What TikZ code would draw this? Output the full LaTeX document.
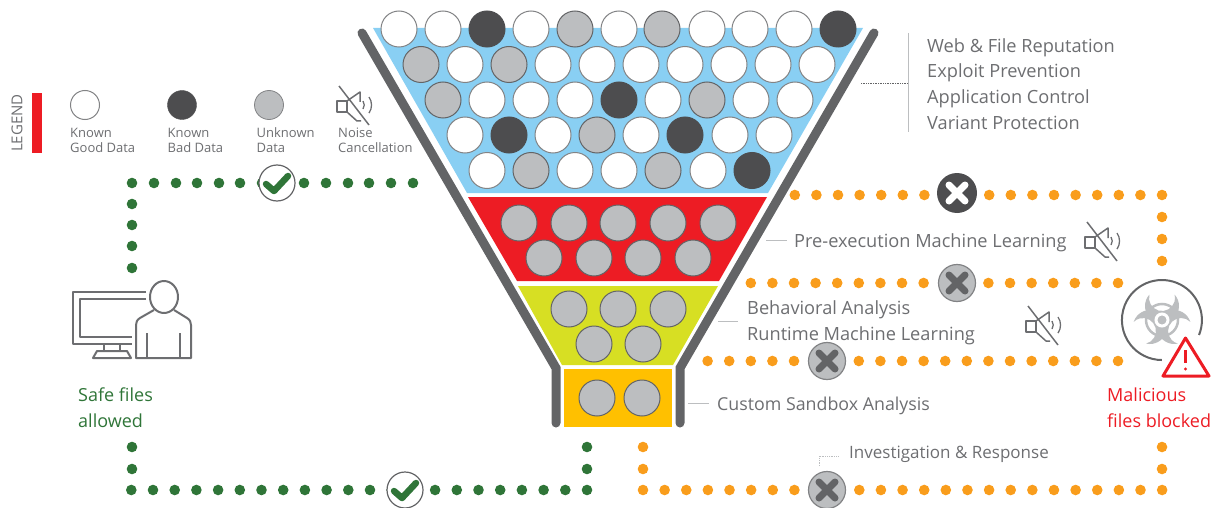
\documentclass[tikz,border=0pt]{standalone}
\usepackage{fontspec}
\setmainfont{Open Sans}
\usetikzlibrary{calc}
\definecolor{txt}{HTML}{6D6E71}
\definecolor{wall}{HTML}{636466}
\definecolor{dark}{HTML}{4D4D4F}
\definecolor{mid}{HTML}{BCBEC0}
\definecolor{grn}{HTML}{2F7538}
\definecolor{org}{HTML}{F99D1C}
\definecolor{blu}{HTML}{89CFF3}
\definecolor{redd}{HTML}{ED1C24}
\definecolor{ylw}{HTML}{D7DF23}
\definecolor{amb}{HTML}{FFC000}
\tikzset{
  x=1pt,y=-1pt,
  ball/.style={circle,minimum size=36pt,inner sep=0pt,line width=1pt},
  w ball/.style={ball,fill=white,draw=wall!80},
  d ball/.style={ball,fill=dark,draw=dark},
  g ball/.style={ball,fill=mid,draw=wall},
  lbl/.style={inner sep=0pt,anchor=west,text=txt,font=\fontsize{18.2}{20}\selectfont},
  smalltxt/.style={inner sep=0pt,anchor=west,align=left,text=txt,font=\fontsize{13}{15}\selectfont},
  leader/.style={draw=mid,line width=1pt},
  gdot/.style={fill=grn,draw=none},
  odot/.style={fill=org,draw=none},
  wallline/.style={draw=wall,line width=9pt,line cap=round,line join=miter},
  tickmark/.style={circle,minimum size=36pt,inner sep=0pt,fill=white,draw=wall,line width=1.2pt},
  xdark/.style={circle,minimum size=40pt,inner sep=0pt,fill=dark},
  xgrey/.style={circle,minimum size=37pt,inner sep=0pt,fill=mid,draw=wall!80,line width=1.2pt},
}
\newcommand{\speaker}[1]{%
  \begin{scope}[shift={(#1)},draw=txt,line width=1.5pt,line join=round]
    \draw (-18,-4) rectangle (-8,7);
    \draw (-8,-4) -- (5,-13) -- (5,-3);
    \draw (-8,7) -- (2,16) -- (6,16);
    \draw (-16,-19) -- (14,20);
    \draw[line width=1.3pt] (8,-4) arc (-35:35:7);
    \draw[line width=1.3pt] (14,-8) arc (-35:35:14);
  \end{scope}}
\newcommand{\chk}[1]{%
  \draw[grn,line width=6.5pt,line cap=round,line join=round] ($(#1)+(-11,1)$) -- ($(#1)+(-3,8)$) -- ($(#1)+(11,-7)$);}
\newcommand{\xcross}[2]{%
  \draw[#2,line width=7pt,line cap=round] ($(#1)+(-8,-8)$) -- ($(#1)+(8,8)$);
  \draw[#2,line width=7pt,line cap=round] ($(#1)+(-8,8)$) -- ($(#1)+(8,-8)$);}
\begin{document}
\begin{tikzpicture}
\useasboundingbox (0,0) rectangle (1217,508);
% funnel fills
\fill[blu] (373,28) -- (863,28) -- (768,193) -- (467,193) -- cycle;
\fill[redd] (468,197) -- (767,197) -- (719,281) -- (517,281) -- cycle;
\fill[ylw] (518,286) -- (718,286) -- (673,365) -- (562,365) -- cycle;
\fill[amb] (564,369) rectangle (672,427);
% walls
\draw[wallline] (362,33) -- (556,368) -- (556,423);
\draw[wallline] (874,33) -- (680,368) -- (680,423);
% balls
\foreach \x/\s in {399/w,443/w,487/d,531/w,575/g,619/w,662/g,707/w,750/w,794/w,838/d}
  \node[\s\space ball] (a\x) at (\x,29) {};
\foreach \x/\s in {421/g,465/w,509/g,553/w,597/w,641/w,685/w,729/w,773/w,817/w}
  \node[\s\space ball] (b\x) at (\x,64.5) {};
\foreach \x/\s in {443/g,487/w,531/w,575/w,619/d,663/w,707/g,751/w,795/w}
  \node[\s\space ball] (c\x) at (\x,100) {};
\foreach \x/\s in {465/w,509/d,553/w,597/g,641/w,685/d,730/w,774/w}
  \node[\s\space ball] (d\x) at (\x,135) {};
\foreach \x/\s in {487/w,531/g,575/w,619/w,663/g,708/w,752/d}
  \node[\s\space ball] (e\x) at (\x,170.5) {};
\foreach \x in {519,569,618,668,718} \node[g ball] (f\x) at (\x,223) {};
\foreach \x in {544,594,643,693} \node[g ball] (g\x) at (\x,258) {};
\foreach \x in {569,618,668} \node[g ball] (h\x) at (\x,309) {};
\foreach \x in {594,643} \node[g ball] (i\x) at (\x,344) {};
\foreach \x in {597,642} \node[g ball] (j\x) at (\x,398) {};
% legend
\fill[redd] (32,93) rectangle (42,153);
\node[rotate=90,text=txt,inner sep=0pt,font=\fontsize{15}{16}\selectfont] (legend) at (17,123) {LEGEND};
\node[circle,minimum size=29pt,inner sep=0pt,fill=white,draw=wall!80,line width=1pt] (l1) at (85,105) {};
\node[circle,minimum size=29pt,inner sep=0pt,fill=dark,draw=dark] (l2) at (182,105) {};
\node[circle,minimum size=29pt,inner sep=0pt,fill=mid,draw=wall!80,line width=.8pt] (l3) at (269,105) {};
\node[smalltxt] (t1) at (70,140.5) {Known\\Good Data};
\node[smalltxt] (t2) at (167.5,140.5) {Known\\Bad Data};
\node[smalltxt] (t3) at (256.5,140.5) {Unknown\\Data};
\node[smalltxt] (t4) at (338,140.5) {Noise\\Cancellation};
\speaker{355,105}
% green dots
\foreach \x in {132,154,176,197,219,240,262,304,326,348,369,391,413} \fill[gdot] (\x,183) circle (5.3);
\foreach \y in {204,225,246,268} \fill[gdot] (132,\y) circle (5.3);
\foreach \k in {0,...,21} \fill[gdot] ({587-21.7*\k},490) circle (5.3);
\foreach \y in {447,469} { \fill[gdot] (587,\y) circle (5.3); \fill[gdot] (132,\y) circle (5.3);}
\node[tickmark] (ck1) at (277,183) {}; \chk{ck1}
\node[tickmark] (ck2) at (405,490) {}; \chk{ck2}
% orange dots
\foreach \k in {0,...,24} \fill[odot] ({643+21.63*\k},490) circle (5.3);
\foreach \y in {447,469} { \fill[odot] (643,\y) circle (5.3); \fill[odot] (1162,\y) circle (5.3);}
\foreach \k in {0,...,17} \fill[odot] ({1162-21.6*\k},195) circle (5.3);
\foreach \y in {217,239,261} \fill[odot] (1162,\y) circle (5.3);
\foreach \k in {0,...,17} \fill[odot] ({1118-21.6*\k},283) circle (5.3);
\foreach \k in {0,...,19} \fill[odot] ({1118-21.6*\k},361) circle (5.3);
% x marks
\node[xdark] (x1) at (957,193) {}; \xcross{x1}{white}
\node[xgrey] (x2) at (957,283) {}; \xcross{x2}{wall}
\node[xgrey] (x3) at (827,361) {}; \xcross{x3}{wall}
\node[xgrey] (x4) at (827,490) {}; \xcross{x4}{wall}
% labels
\node[lbl] (w1) at (927,47.5) {Web \& File Reputation};
\node[lbl] (w2) at (927,73) {Exploit Prevention};
\node[lbl] (w3) at (927,98.5) {Application Control};
\node[lbl] (w4) at (927,122.5) {Variant Protection};
\coordinate (vt) at (908,33); \coordinate (vb) at (908,132);
\draw[leader] (vt) -- (vb);
\coordinate (dl) at (861,83.5); \coordinate (dr) at (908,83.5);
\draw[wall,line width=.7pt,densely dotted] (dl) -- (dr);
\node[lbl] (p1) at (794,242.5) {Pre-execution Machine Learning};
\coordinate (p0) at (766,240); \coordinate (p3) at (787,240); \draw[leader] (p0) -- (p3);
\node[lbl] (b1) at (747,309.5) {Behavioral Analysis};
\node[lbl] (b2) at (747,335.5) {Runtime Machine Learning};
\coordinate (b0) at (718,321); \coordinate (b3) at (738,321); \draw[leader] (b0) -- (b3);
\node[lbl,font=\fontsize{17.8}{20}\selectfont] (s1) at (717,405.5) {Custom Sandbox Analysis};
\coordinate (s0) at (688,403); \coordinate (s3) at (709,403); \draw[leader] (s0) -- (s3);
\node[lbl,font=\fontsize{17}{20}\selectfont] (r1) at (849,454.5) {Investigation \& Response};
\coordinate (r0) at (819,466); \coordinate (r3) at (838,456); \draw[mid,line width=.8pt,densely dotted] (r0) |- (r3);
\speaker{1103,241}
\speaker{1044,325}
% person
\begin{scope}[draw=txt,line width=2pt,line join=round]
  \draw (146,292) -- (73,292) -- (73,344) -- (132,344);
  \draw (146,299) -- (80,299) -- (80,337) -- (132,337);
  \draw (104,345) -- (104,351) (120,345) -- (120,351);
  \draw (97,351) -- (127,351) -- (131,358) -- (93,358) -- cycle;
  \draw (164,297) ellipse (14 and 16);
  \draw (154,310) -- (140,318) .. controls (137,320) and (136,322) .. (136,325) -- (136,358) -- (191,358) -- (191,325) .. controls (191,322) and (190,320) .. (187,318) -- (174,310);
  \draw (147,333) -- (147,358) (180,333) -- (180,358);
\end{scope}
\node[inner sep=0pt,anchor=west,align=left,text=grn,font=\fontsize{18}{26}\selectfont] (safe) at (78,407.5) {Safe files\\allowed};
% biohazard
\draw[wall,line width=2pt] (1199,335) arc (22:-270:40);
\draw[mid,line width=2.5pt] (1162,320) circle (16);
\foreach \a in {0,120,240}
  \fill[mid,shift={(1162,320)},rotate=\a] (12.5,-25.5) arc (-42.6:222.6:17) arc (195.6:-15.6:13) -- cycle;
\draw[white,line width=3pt] (1162,320) circle (6);
\fill[mid] (1162,320) circle (3.5);
% warning triangle
\node[inner sep=0pt,anchor=west,align=left,text=redd,font=\fontsize{18}{26}\selectfont] (mal) at (1107,407.5) {Malicious\\files blocked};
\draw[redd,fill=white,line width=3pt,line join=round] (1185.5,338) -- (1163,376) -- (1209,376) -- cycle;
\draw[redd,line width=2.8pt] (1185.5,350) -- (1185.5,363);
\fill[redd] (1185.5,369) circle (1.7);
\end{tikzpicture}
\end{document}
